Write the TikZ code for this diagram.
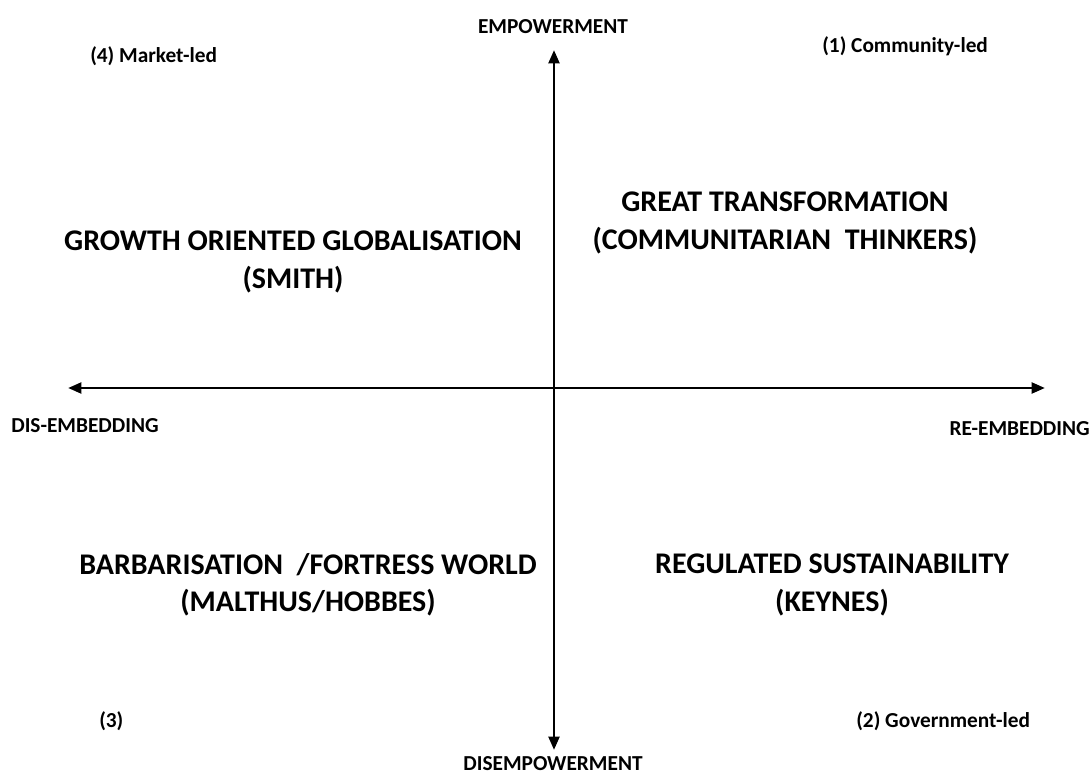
\documentclass[tikz,border=0pt]{standalone}
\usepackage{fontspec}
\setmainfont{Carlito}
\usetikzlibrary{arrows.meta}
\begin{document}
\begin{tikzpicture}[x=0.75pt,y=-0.75pt,
  small/.style={font=\bfseries\fontsize{16}{18}\selectfont, inner sep=0pt},
  big/.style={font=\bfseries\fontsize{22.5}{28}\selectfont, inner sep=0pt, align=center},
  axis/.style={line width=2.2pt, -{Triangle[length=10pt,width=8pt]}}]
\useasboundingbox (0,0) rectangle (1091,777);
\coordinate (o) at (554,388);
\coordinate (top) at (554,50);
\coordinate (bot) at (554,750);
\coordinate (lft) at (68,388);
\coordinate (rgt) at (1045,388);
\draw[axis] (o) -- (top);
\draw[axis] (o) -- (bot);
\draw[axis] (o) -- (lft);
\draw[axis] (o) -- (rgt);
\node[small] (emp) at (553,27) {EMPOWERMENT};
\node[small] (dis) at (553,764) {DISEMPOWERMENT};
\node[small] (dise) at (85,426) {DIS-EMBEDDING};
\node[small,anchor=east] (ree) at (1090,429) {RE-EMBEDDING};
\node[small,anchor=west] (q4) at (90,56) {(4) Market-led};
\node[small,anchor=west] (q1) at (822,46) {(1) Community-led};
\node[small,anchor=west] (q3) at (99,721) {(3)};
\node[small,anchor=west] (q2) at (856,721) {(2) Government-led};
\node[big] (gog) at (293,262) {GROWTH ORIENTED GLOBALISATION\\(SMITH)};
\node[big] (gt) at (785,223) {GREAT TRANSFORMATION\\(COMMUNITARIAN\ \ THINKERS)};
\node[big] (bf) at (308,585) {BARBARISATION \ /FORTRESS WORLD\\(MALTHUS/HOBBES)};
\node[big] (rs) at (832,585) {REGULATED SUSTAINABILITY\\(KEYNES)};
\end{tikzpicture}
\end{document}
